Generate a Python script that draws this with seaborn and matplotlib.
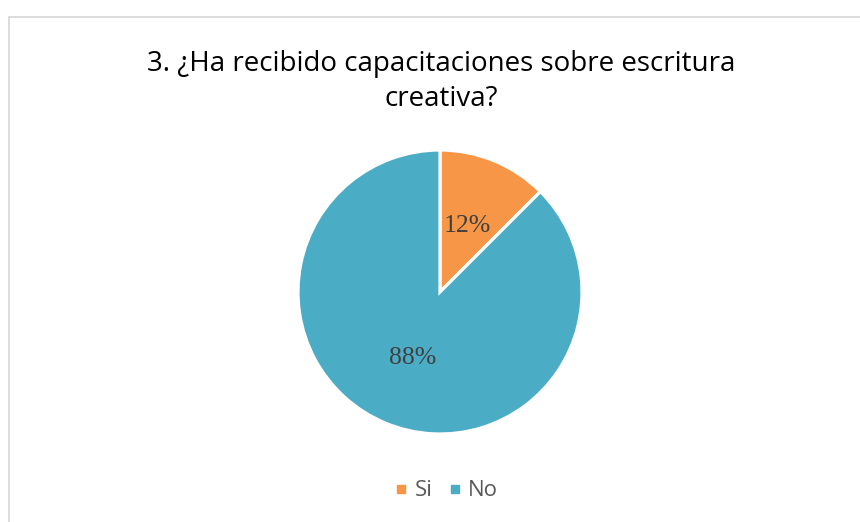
import matplotlib
matplotlib.use("Agg")
import matplotlib.pyplot as plt
import seaborn as sns
import numpy as np
from matplotlib.lines import Line2D
from matplotlib.patches import Rectangle

categories = ["Si", "No"]
values = [12.5, 87.5]
pct_labels = ["12%", "88%"]
colors = ["#F79646", "#4BACC6"]
title = "3. ¿Ha recibido capacitaciones sobre escritura\ncreativa?"

sns.set_theme(style="white")
plt.rcParams['font.family'] = ['Open Sans', 'DejaVu Sans']

W, H = 860, 522
fig = plt.figure(figsize=(W / 100, H / 100), dpi=100)

# border (only top and left visible)
fig.patches.append(Rectangle((8.5 / W, -0.1), 1.2, 1.1 - 16.5 / H,
                             transform=fig.transFigure, fill=False,
                             edgecolor="#D9D9D9", linewidth=1.3))

cx, cy, r = 440, 292, 142
ax = fig.add_axes([(cx - r) / W, (H - cy - r) / H, 2 * r / W, 2 * r / H])
wedges, _ = ax.pie(values, colors=colors, startangle=90, counterclock=False,
                   radius=1, wedgeprops=dict(edgecolor="white", linewidth=2.3))
ax.set_xlim(-1, 1)
ax.set_ylim(-1, 1)
ax.set_aspect("equal")
ax.axis("off")

start = 90.0
total = sum(values)
for v, lab in zip(values, pct_labels):
    span = 360.0 * v / total
    mid = np.deg2rad(start - span / 2)
    ax.text(0.5 * np.cos(mid), 0.5 * np.sin(mid), lab, ha="center", va="center",
            fontsize=18.5, color="#404040", family=["Liberation Serif", "DejaVu Serif"])
    start -= span

fig.text(441 / W, 1 - 81.5 / H, title, ha="center", va="center", fontsize=20,
         color="#000000", linespacing=1.36)

handles = [Line2D([0], [0], marker="s", linestyle="none", markersize=6,
                  markerfacecolor=c, markeredgecolor=c) for c in colors]
fig.legend(handles, categories, loc="center", bbox_to_anchor=(444 / W, 1 - 491 / H),
           ncol=2, frameon=False, fontsize=16, labelcolor="#595959",
           handletextpad=0.1, columnspacing=0.5, handlelength=1.0)

fig.savefig("out.png", dpi=100)
